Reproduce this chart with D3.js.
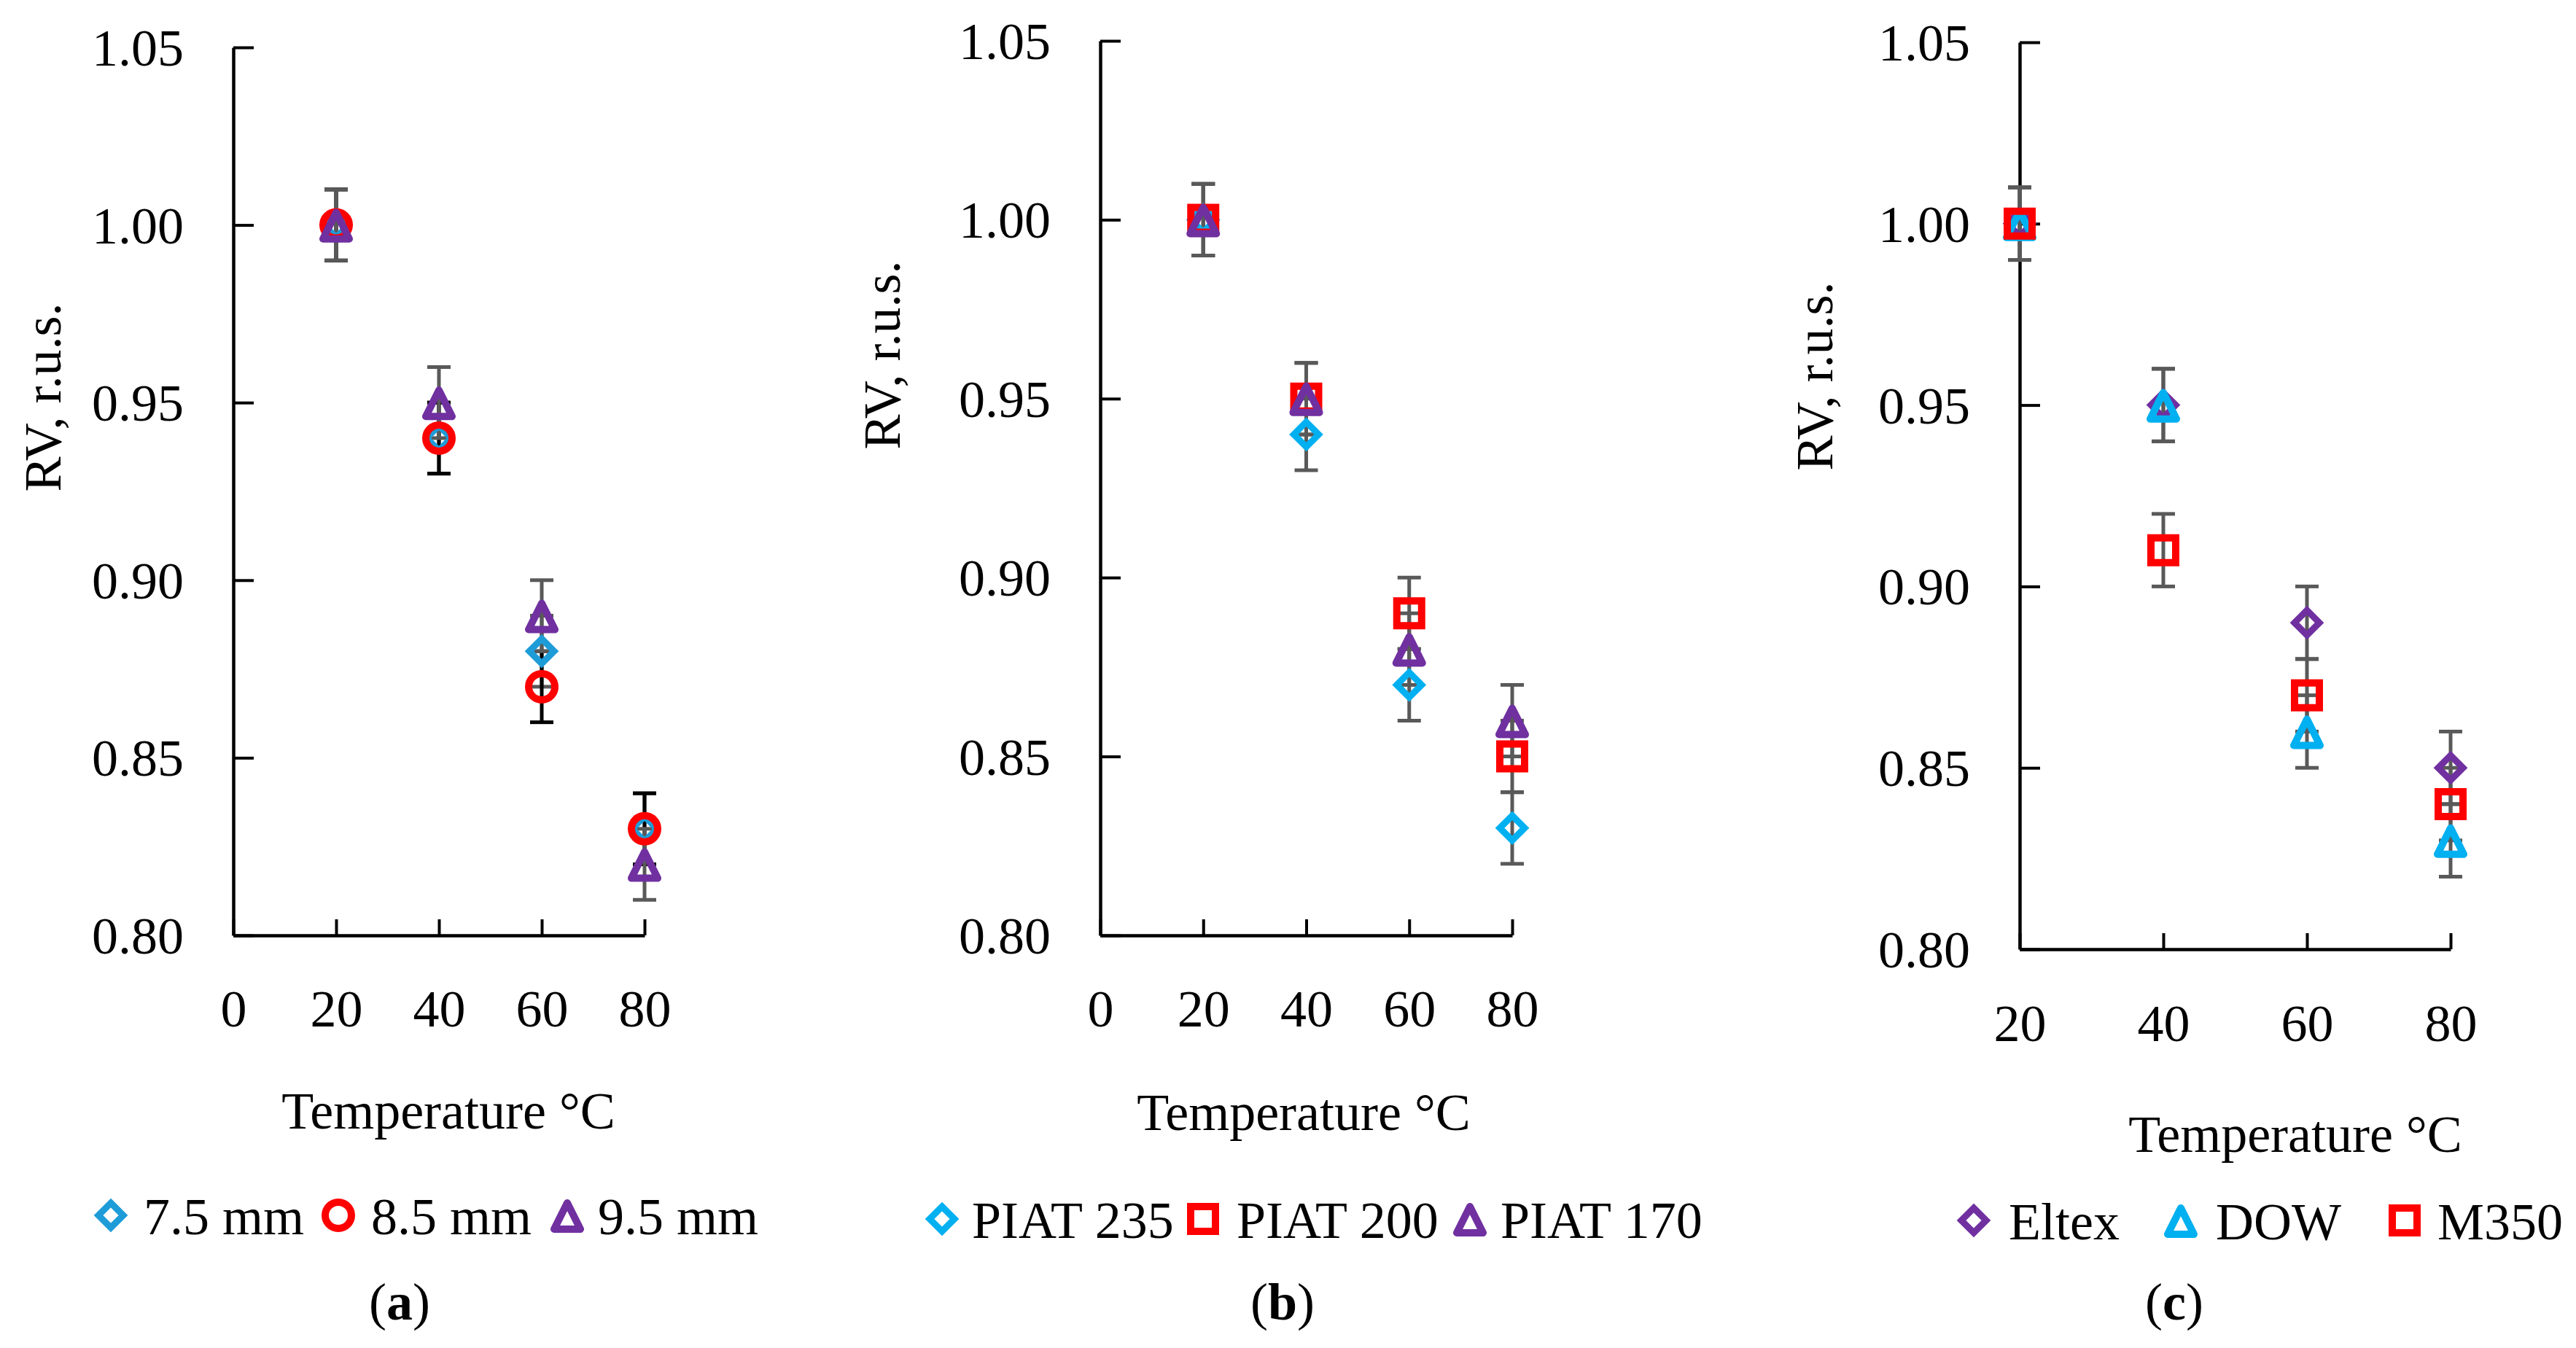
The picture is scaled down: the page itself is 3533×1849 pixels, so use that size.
<!DOCTYPE html>
<html>
<head>
	<title>RV vs temperature</title>
	<script src="https://cdn.jsdelivr.net/npm/d3@7"></script>
	<style type="text/css">
		body{ margin: 0; background: #fff; }
		svg text{ font-family: 'Liberation Serif', 'Times New Roman', serif; fill: #000; }
	</style>
</head>
<body>

	<svg width=3533 height=1849 class="rv-chart"></svg>
	<script type="text/javascript">

		// data
		temperature = [20, 40, 60, 80]

		rvA_75 = [1.00, 0.94, 0.88, 0.83]
		rvA_85 = [1.00, 0.94, 0.87, 0.83]
		rvA_95 = [1.00, 0.95, 0.89, 0.82]

		rvB_235 = [1.00, 0.94, 0.87, 0.83]
		rvB_200 = [1.00, 0.95, 0.89, 0.85]
		rvB_170 = [1.00, 0.95, 0.88, 0.86]

		rvC_eltex = [1.00, 0.95, 0.89, 0.85]
		rvC_dow   = [1.00, 0.95, 0.86, 0.83]
		rvC_m350  = [1.00, 0.91, 0.87, 0.84]

		errAll = [0.01, 0.01, 0.01, 0.01]

		yTicks = [0.80, 0.85, 0.90, 0.95, 1.00, 1.05]
		xTicksAB = [0, 20, 40, 60, 80]
		xTicksC = [20, 40, 60, 80]

		legendA = ['7.5 mm', '8.5 mm', '9.5 mm']
		legendB = ['PIAT 235', 'PIAT 200', 'PIAT 170']
		legendC = ['Eltex', 'DOW', 'M350']

		yTitle = 'RV, r.u.s.'
		xTitle = 'Temperature °C'

		// marker shapes (size = half extent of the centre line)
		diamond = {draw: function(c, r){ c.moveTo(0,-r); c.lineTo(r,0); c.lineTo(0,r); c.lineTo(-r,0); c.closePath() }}
		square = {draw: function(c, r){ c.rect(-r, -r, 2*r, 2*r) }}
		circle = {draw: function(c, r){ c.moveTo(r,0); c.arc(0, 0, r, 0, 2*Math.PI) }}
		triangle = {draw: function(c, r){ c.moveTo(0,-r); c.lineTo(r*1.06, r*1.12); c.lineTo(-r*1.06, r*1.12); c.closePath() }}

		shapeSize = {diamond: 17, square: 17, circle: 18, triangle: 17}
		function shapeKey(t){ return t === diamond ? 'diamond' : t === square ? 'square' : t === circle ? 'circle' : 'triangle' }

		blue = '#1e9cd8'
		cyan = '#00b0f0'
		red = '#ff0000'
		purple = '#7030a0'
		grey = '#595959'

		panels = [
			{ name: 'a', xDomain: [0, 80], xRange: [320, 884], yRange: [1283, 65], xTicks: xTicksAB,
			  tickBase: 125, xTitleX: 615, xTitleY: 1548, yTitleX: 83, yTitleY: 545,
			  legendY: 1693, legendMarkX: [152, 464, 778], legendTextX: [197, 509, 820], tagX: 548,
			  series: [
				{ name: legendA[0], values: rvA_75, err: errAll, shape: diamond, color: blue, errColor: grey },
				{ name: legendA[1], values: rvA_85, err: errAll, shape: circle, color: red, errColor: '#000' },
				{ name: legendA[2], values: rvA_95, err: errAll, shape: triangle, color: purple, errColor: grey }
			  ] },
			{ name: 'b', xDomain: [0, 80], xRange: [1509, 2074], yRange: [1283, 56], xTicks: xTicksAB,
			  tickBase: 125, xTitleX: 1788, xTitleY: 1550, yTitleX: 1234, yTitleY: 487,
			  legendY: 1698, legendMarkX: [1292, 1650, 2016], legendTextX: [1333, 1696, 2058], tagX: 1759,
			  series: [
				{ name: legendB[0], values: rvB_235, err: errAll, shape: diamond, color: cyan, errColor: grey },
				{ name: legendB[1], values: rvB_200, err: errAll, shape: square, color: red, errColor: grey },
				{ name: legendB[2], values: rvB_170, err: errAll, shape: triangle, color: purple, errColor: grey }
			  ] },
			{ name: 'c', xDomain: [20, 80], xRange: [2770, 3361], yRange: [1302, 58], xTicks: xTicksC,
			  tickBase: 126, xTitleX: 3148, xTitleY: 1580, yTitleX: 2513, yTitleY: 516,
			  legendY: 1700, legendMarkX: [2707, 2991, 3298], legendTextX: [2755, 3039, 3343], tagX: 2982,
			  series: [
				{ name: legendC[0], values: rvC_eltex, err: errAll, shape: diamond, color: purple, errColor: grey },
				{ name: legendC[1], values: rvC_dow, err: errAll, shape: triangle, color: cyan, errColor: grey },
				{ name: legendC[2], values: rvC_m350, err: errAll, shape: square, color: red, errColor: grey }
			  ] }
		]

		svg = d3.select('.rv-chart')
		fontSize = 72

		panels.forEach(function(p){

			x = d3.scaleLinear().domain(p.xDomain).range(p.xRange)
			y = d3.scaleLinear().domain([0.80, 1.05]).range(p.yRange)

			g = svg.append('g').attr('class', 'panel-' + p.name)

			// axes
			yAxis = g.append('g')
				.attr('transform', 'translate(' + p.xRange[0] + ',0)')
				.call(d3.axisLeft(y).tickValues(yTicks).tickSizeInner(-28).tickSizeOuter(0)
					.tickPadding(68).tickFormat(d3.format('.2f')))
			yAxis.selectAll('text').attr('font-size', fontSize).attr('dy', '0.34em')

			xAxis = g.append('g')
				.attr('transform', 'translate(0,' + p.yRange[0] + ')')
				.call(d3.axisBottom(x).tickValues(p.xTicks).tickSizeInner(-22).tickSizeOuter(0))
			xAxis.selectAll('text').attr('font-size', fontSize).attr('y', p.tickBase).attr('dy', 0)

			g.selectAll('.domain').attr('stroke', '#000').attr('stroke-width', 4.5)
			g.selectAll('.tick line').attr('stroke', '#000').attr('stroke-width', 4)
			g.selectAll('.tick text').attr('fill', '#000')

			// error bars
			p.series.forEach(function(s){
				eg = g.append('g').attr('stroke', s.errColor).attr('stroke-width', 5)
				pts = temperature.map(function(t, i){ return {t: t, v: s.values[i], e: s.err[i]} })
				eg.selectAll('line.stem').data(pts).enter().append('line')
					.attr('x1', function(d){ return x(d.t) }).attr('x2', function(d){ return x(d.t) })
					.attr('y1', function(d){ return y(d.v - d.e) }).attr('y2', function(d){ return y(d.v + d.e) })
				eg.selectAll('line.cap-hi').data(pts).enter().append('line')
					.attr('x1', function(d){ return x(d.t) - 16 }).attr('x2', function(d){ return x(d.t) + 16 })
					.attr('y1', function(d){ return y(d.v + d.e) }).attr('y2', function(d){ return y(d.v + d.e) })
				eg.selectAll('line.cap-lo').data(pts).enter().append('line')
					.attr('x1', function(d){ return x(d.t) - 16 }).attr('x2', function(d){ return x(d.t) + 16 })
					.attr('y1', function(d){ return y(d.v - d.e) }).attr('y2', function(d){ return y(d.v - d.e) })
			})

			// markers
			p.series.forEach(function(s){
				sym = d3.symbol().type(s.shape).size(shapeSize[shapeKey(s.shape)])
				g.append('g').selectAll('path').data(s.values).enter().append('path')
					.attr('d', sym)
					.attr('transform', function(d, i){ return 'translate(' + x(temperature[i]) + ',' + y(d) + ')' })
					.attr('fill', 'none')
					.attr('stroke', s.color)
					.attr('stroke-width', s.shape === diamond ? 9 : 10)
					.attr('stroke-linejoin', s.shape === triangle ? 'round' : 'miter')
			})

			// titles
			g.append('text')
				.attr('x', p.xTitleX).attr('y', p.xTitleY)
				.attr('text-anchor', 'middle').attr('font-size', fontSize)
				.text(xTitle)

			g.append('text')
				.attr('transform', 'translate(' + p.yTitleX + ',' + p.yTitleY + ') rotate(-90)')
				.attr('text-anchor', 'middle').attr('font-size', fontSize)
				.text(yTitle)

			// legend
			leg = g.append('g')
			p.series.forEach(function(s, i){
				sym = d3.symbol().type(s.shape).size(shapeSize[shapeKey(s.shape)])
				leg.append('path')
					.attr('d', sym)
					.attr('transform', 'translate(' + p.legendMarkX[i] + ',' + (p.legendY - 26) + ')')
					.attr('fill', 'none')
					.attr('stroke', s.color)
					.attr('stroke-width', s.shape === diamond ? 9 : 10)
					.attr('stroke-linejoin', s.shape === triangle ? 'round' : 'miter')
				leg.append('text')
					.attr('x', p.legendTextX[i]).attr('y', p.legendY)
					.attr('font-size', fontSize)
					.text(s.name)
			})

			// panel tag
			tag = g.append('text')
				.attr('x', p.tagX).attr('y', 1810)
				.attr('text-anchor', 'middle').attr('font-size', fontSize)
			tag.append('tspan').text('(')
			tag.append('tspan').attr('font-weight', 'bold').text(p.name)
			tag.append('tspan').text(')')
		})

	</script>
	
</body>
</html>
